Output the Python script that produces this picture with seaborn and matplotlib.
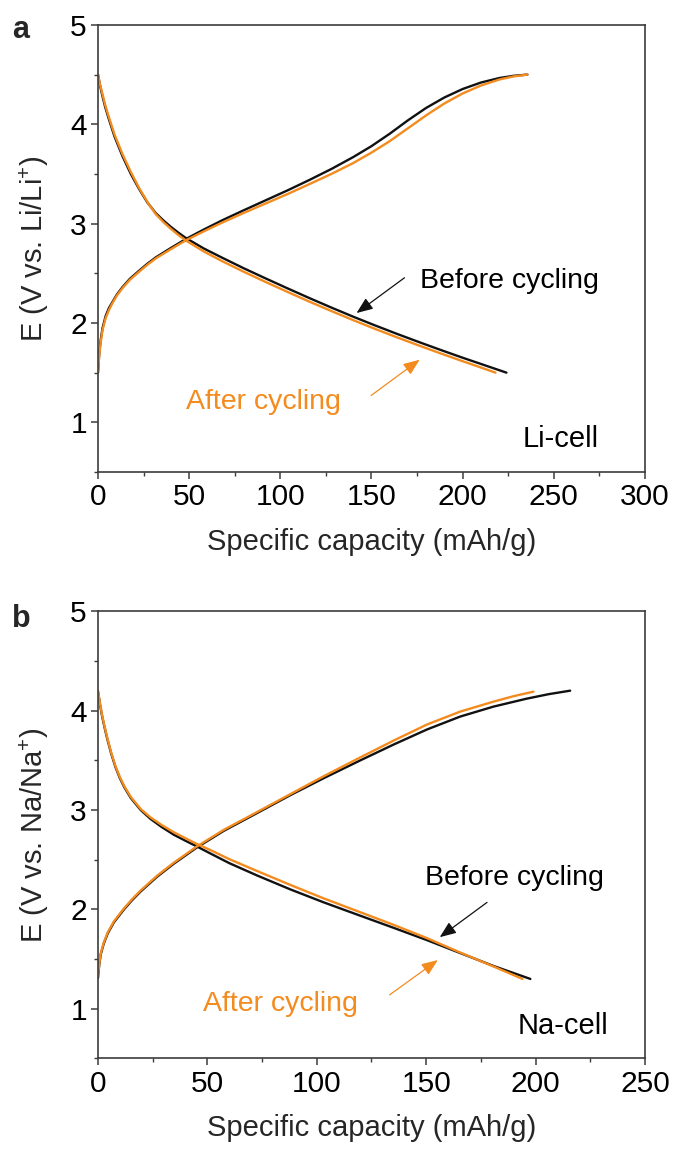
import numpy as np
import pandas as pd
import matplotlib
matplotlib.use("Agg")
import matplotlib.pyplot as plt
import seaborn as sns
from matplotlib.ticker import MultipleLocator

# ---------------- Li-cell (panel a) ----------------
li_dis_c = [0, 1, 2.5, 4, 6, 9, 13.4, 18, 22.5, 27, 31.7, 36, 40, 44, 48.2, 58, 68.3,
            80, 92, 104, 116, 128, 140, 152, 164, 176, 188, 200, 212, 224]
li_dis_before_v = [4.50, 4.40, 4.28, 4.17, 4.05, 3.88, 3.68, 3.50, 3.35, 3.215, 3.105, 3.03,
                   2.967, 2.91, 2.855, 2.75, 2.655, 2.55, 2.448, 2.348, 2.25, 2.155, 2.063,
                   1.975, 1.89, 1.808, 1.728, 1.65, 1.575, 1.50]
li_dis_after_c = [0, 1, 2.5, 4, 6, 9, 13.4, 18, 22.5, 27, 31.7, 36, 40, 44, 48.2, 58, 68.3,
                  80, 92, 104, 116, 128, 140, 152, 164, 176, 188, 200, 209, 218]
li_dis_after_v = [4.50, 4.41, 4.30, 4.19, 4.07, 3.90, 3.70, 3.52, 3.36, 3.22, 3.095, 3.013,
                  2.947, 2.887, 2.83, 2.72, 2.62, 2.515, 2.412, 2.312, 2.214, 2.12, 2.028,
                  1.94, 1.855, 1.773, 1.693, 1.615, 1.558, 1.50]
li_chg_c = [0, 0.7, 1.5, 2.5, 4.2, 6, 7.9, 10.5, 13.4, 17.5, 22.5, 27, 31.7, 40, 48.2, 58,
            68.3, 80, 92, 104, 116, 128, 140, 150, 160, 170, 180, 190, 200, 210, 220, 228,
            235.5]
li_chg_before_v = [1.50, 1.70, 1.83, 1.95, 2.07, 2.15, 2.21, 2.29, 2.36, 2.445, 2.525, 2.595,
                   2.66, 2.755, 2.845, 2.94, 3.035, 3.135, 3.235, 3.335, 3.44, 3.55, 3.67,
                   3.78, 3.905, 4.04, 4.165, 4.27, 4.355, 4.42, 4.465, 4.488, 4.50]
li_chg_after_v = [1.50, 1.68, 1.81, 1.93, 2.05, 2.13, 2.20, 2.28, 2.35, 2.435, 2.515, 2.585,
                  2.65, 2.743, 2.832, 2.922, 3.012, 3.108, 3.203, 3.298, 3.398, 3.50, 3.61,
                  3.715, 3.83, 3.96, 4.09, 4.21, 4.31, 4.39, 4.45, 4.482, 4.50]

# ---------------- Na-cell (panel b) ----------------
na_dis_before_c = [0, 1, 2, 3, 4.3, 6, 8, 10, 12, 15, 19.5, 24, 29, 34.7, 40, 45, 52, 60,
                   72.8, 88, 103.2, 120, 135, 150.4, 165.6, 180.8, 197.6]
na_dis_before_v = [4.19, 4.05, 3.93, 3.83, 3.71, 3.57, 3.43, 3.32, 3.23, 3.12, 3.00, 2.91,
                   2.83, 2.75, 2.69, 2.635, 2.555, 2.465, 2.34, 2.20, 2.07, 1.935, 1.815,
                   1.69, 1.56, 1.43, 1.30]
na_dis_after_c = [0, 1, 2, 3, 4.3, 6, 8, 10, 12, 15, 19.5, 24, 29, 34.7, 40, 45, 52, 60,
                  72.8, 88, 103.2, 120, 135, 150.4, 165.6, 180.8, 194]
na_dis_after_v = [4.20, 4.06, 3.94, 3.84, 3.72, 3.58, 3.44, 3.33, 3.24, 3.13, 3.01, 2.925,
                  2.85, 2.775, 2.715, 2.66, 2.59, 2.505, 2.385, 2.245, 2.11, 1.97, 1.845,
                  1.71, 1.565, 1.425, 1.30]
na_chg_before_c = [0, 0.6, 1.3, 2.7, 4.5, 7.3, 11.9, 15.5, 19.5, 27.1, 34.7, 45, 57.5,
                   72.8, 88, 103.2, 120, 135.3, 150.4, 165.6, 180.8, 196, 206, 215.8]
na_chg_before_v = [1.31, 1.45, 1.55, 1.66, 1.76, 1.87, 2.00, 2.09, 2.18, 2.33, 2.46, 2.62,
                   2.79, 2.97, 3.15, 3.32, 3.50, 3.66, 3.81, 3.94, 4.04, 4.12, 4.165, 4.20]
na_chg_after_c = [0, 0.6, 1.3, 2.7, 4.5, 7.3, 11.9, 15.5, 19.5, 27.1, 34.7, 45, 57.5,
                  72.8, 88, 103.2, 120, 135.3, 150.4, 165.6, 180.8, 190, 199]
na_chg_after_v = [1.33, 1.46, 1.56, 1.67, 1.77, 1.88, 2.01, 2.10, 2.19, 2.34, 2.47, 2.63,
                  2.80, 2.98, 3.16, 3.34, 3.53, 3.70, 3.86, 3.99, 4.09, 4.145, 4.19]

BLACK = "#111111"
ORANGE = "#F38B1F"
SPINE = "#3c3c3c"

sns.set_theme(style="ticks")
plt.rcParams["font.family"] = ["Liberation Sans", "DejaVu Sans"]
plt.rcParams["mathtext.fontset"] = "custom"
plt.rcParams["mathtext.rm"] = "Liberation Sans"
plt.rcParams["mathtext.it"] = "Liberation Sans:italic"

fig = plt.figure(figsize=(6.73, 11.54), dpi=100)
ax_a = fig.add_axes([0.1456, 0.5910, 0.8128, 0.3874])
ax_b = fig.add_axes([0.1456, 0.0828, 0.8128, 0.3876])


def curve(ax, c, v, color):
    df = pd.DataFrame({"cap": c, "E": v})
    sns.lineplot(data=df, x="cap", y="E", ax=ax, color=color, lw=1.7,
                 sort=False, estimator=None)


def style(ax, xmax, ylabel):
    ax.set_xlim(0, xmax)
    ax.set_ylim(0.5, 5)
    ax.xaxis.set_major_locator(MultipleLocator(50))
    ax.xaxis.set_minor_locator(MultipleLocator(25))
    ax.yaxis.set_major_locator(MultipleLocator(1))
    ax.yaxis.set_minor_locator(MultipleLocator(0.5))
    for s in ax.spines.values():
        s.set_color(SPINE)
        s.set_linewidth(1.2)
    ax.tick_params(which="major", direction="out", length=5, width=1.1,
                   color=SPINE, labelsize=21.5, pad=3, labelcolor="black")
    ax.tick_params(which="minor", direction="out", length=3, width=1.0, color=SPINE)
    ax.tick_params(top=False, right=False, which="both")
    ax.set_xlabel("Specific capacity (mAh/g)", fontsize=21, labelpad=12)
    ax.set_ylabel(ylabel, fontsize=21, labelpad=14)


def arrow(ax, tip, start, color):
    ax.annotate("", xy=tip, xytext=start,
                arrowprops=dict(arrowstyle="-|>,head_length=0.55,head_width=0.22",
                                color=color, lw=0.9, mutation_scale=18,
                                shrinkA=0, shrinkB=0))


# panel a
curve(ax_a, li_dis_c, li_dis_before_v, BLACK)
curve(ax_a, li_chg_c, li_chg_before_v, BLACK)
curve(ax_a, li_dis_after_c, li_dis_after_v, ORANGE)
curve(ax_a, li_chg_c, li_chg_after_v, ORANGE)
style(ax_a, 300, "E (V vs. Li/Li$^{+}$)")
ax_a.text(176.4, 2.35, "Before cycling", fontsize=20.5, color="black", va="baseline")
ax_a.text(48.2, 1.13, "After cycling", fontsize=20.5, color=ORANGE, va="baseline")
ax_a.text(233, 0.755, "Li-cell", fontsize=21, color="black", va="baseline")
arrow(ax_a, (141.8, 2.10), (168.1, 2.455), BLACK)
arrow(ax_a, (176.4, 1.63), (149.8, 1.27), ORANGE)

# panel b
curve(ax_b, na_dis_before_c, na_dis_before_v, BLACK)
curve(ax_b, na_chg_before_c, na_chg_before_v, BLACK)
curve(ax_b, na_dis_after_c, na_dis_after_v, ORANGE)
curve(ax_b, na_chg_after_c, na_chg_after_v, ORANGE)
style(ax_b, 250, "E (V vs. Na/Na$^{+}$)")
ax_b.text(149.6, 2.25, "Before cycling", fontsize=20.5, color="black", va="baseline")
ax_b.text(48.1, 0.98, "After cycling", fontsize=20.5, color=ORANGE, va="baseline")
ax_b.text(192, 0.745, "Na-cell", fontsize=21, color="black", va="baseline")
arrow(ax_b, (156.2, 1.72), (177.8, 2.07), BLACK)
arrow(ax_b, (155.3, 1.49), (133.3, 1.14), ORANGE)

fig.text(0.018, 1 - 38 / 1154, "a", fontsize=22, fontweight="bold", va="baseline")
fig.text(0.018, 1 - 627 / 1154, "b", fontsize=22, fontweight="bold", va="baseline")

fig.savefig("out.png", dpi=100)
